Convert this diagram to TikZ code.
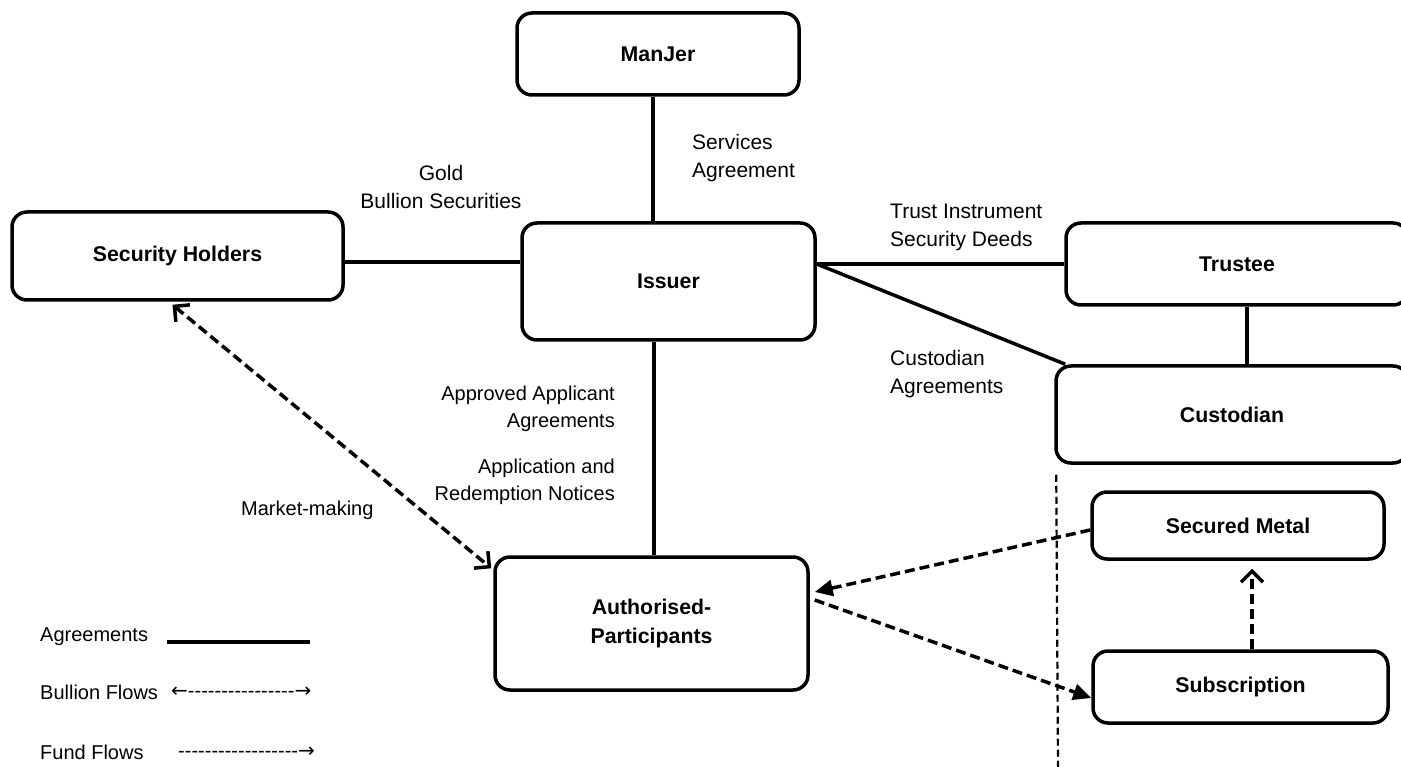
\documentclass[tikz,border=0pt]{standalone}
\usepackage{fontspec}
\setmainfont{Liberation Sans}
\newfontfamily\arrowfont{DejaVu Sans}
\usetikzlibrary{arrows.meta}
\newcommand\hyphenrun[1]{\foreach \k in {1,...,#1}{-{}}}
\begin{document}
\begin{tikzpicture}[x=1pt,y=-1pt,
  box/.style={draw,line width=3.5pt,rounded corners=15pt,font=\fontsize{21.3}{29}\selectfont\bfseries,align=center,inner sep=0pt},
  agr/.style={line width=3.5pt},
  flow/.style={line width=3.5pt,dash pattern=on 10pt off 5pt},
  thinflow/.style={line width=2.2pt,dash pattern=on 7pt off 4pt},
  lbl/.style={font=\fontsize{21}{28}\selectfont,inner sep=0pt},
  lbls/.style={font=\fontsize{20}{27}\selectfont,inner sep=0pt},
  barb/.style={-{Straight Barb[length=11pt,width=22pt,line width=3.5pt]}},
  tri/.style={-{Triangle[length=18pt,width=16pt]}}]
\useasboundingbox (0,0) rectangle (1401,767);
\fill[white] (0,0) rectangle (1401,767);
% boxes
\node[box,minimum width=282pt,minimum height=82pt] (manjer) at (658,54) {ManJer};
\node[box,minimum width=331pt,minimum height=88pt] (holders) at (177.5,256) {Security Holders};
\node[box,minimum width=293pt,minimum height=117pt] (issuer) at (668.5,281.5) {Issuer};
\node[box,minimum width=342pt,minimum height=82pt] (trustee) at (1237,264) {Trustee};
\node[box,minimum width=352pt,minimum height=97pt] (cust) at (1232,414.5) {Custodian};
\node[box,minimum width=292pt,minimum height=67pt] (secured) at (1238,525.5) {Secured Metal};
\node[box,minimum width=295pt,minimum height=72pt] (sub) at (1240.5,687) {Subscription};
\node[box,minimum width=313pt,minimum height=133pt] (ap) at (651.5,623.5) {Authorised-\\Participants};
% agreement lines
\coordinate (mj) at ([xshift=-5pt]manjer.south);
\draw[agr] (mj) -- (mj |- issuer.north);
\coordinate (sh) at ([yshift=-6pt]holders.east);
\draw[agr] (sh) -- (sh -| issuer.west);
\coordinate (ie) at (issuer.east |- trustee.west);
\draw[agr] (ie) -- (trustee.west);
\draw[agr] (ie) -- ([xshift=11pt]cust.north west);
\coordinate (tc) at ([xshift=10pt]trustee.south);
\draw[agr] (tc) -- (tc |- cust.north);
\coordinate (ia) at ([xshift=2.5pt]ap.north);
\draw[agr] (ia) -- (ia |- issuer.south);
% flows
\draw[flow,{Straight Barb[length=11pt,width=22pt,line width=3.5pt]}-{Straight Barb[length=11pt,width=22pt,line width=3.5pt]}] ([xshift=-5pt,yshift=-3pt]holders.south) -- ([xshift=-2pt,yshift=-13pt]ap.north west);
\draw[flow,tri] ([yshift=-4.5pt]secured.west) -- ([xshift=5pt,yshift=31.5pt]ap.east);
\draw[flow,tri] ([xshift=5pt,yshift=23.5pt]ap.east) -- ([yshift=-11pt]sub.west);
\coordinate (ss) at ([xshift=11.5pt]sub.north);
\draw[flow,barb,shorten >=8pt] (ss) -- (ss |- secured.south);
\coordinate (vb) at (1058,767);
\draw[thinflow] ([xshift=2pt,yshift=-10pt]cust.south west) -- (vb);
% labels
\node[lbl,anchor=west,align=left] (l1) at (692,158) {Services\\Agreement};
\node[lbl,align=center] (l2) at (441,186.5) {Gold\\Bullion Securities};
\node[lbl,anchor=west,align=left] (l3) at (890,227) {Trust Instrument\\Security Deeds};
\node[lbl,anchor=west,align=left] (l4) at (890,374) {Custodian\\Agreements};
\node[lbls,anchor=east,align=right] (l5) at (615,408.5) {Approved Applicant\\Agreements};
\node[lbls,anchor=east,align=right] (l6) at (615,481.5) {Application and\\Redemption Notices};
\node[lbls,anchor=west] (l7) at (241,510) {Market-making};
% legend
\node[lbls,anchor=west] (g1) at (40,637) {Agreements};
\coordinate (ga) at (167,642);
\coordinate (gb) at (310,642);
\draw[agr] (ga) -- (gb);
\node[lbls,anchor=west] (g2) at (40,692) {Bullion Flows};
\node[lbls,anchor=west] (g2a) at (171,692) {{\arrowfont ←}\hyphenrun{16}{\arrowfont →}};
\node[lbls,anchor=west] (g3) at (40,752) {Fund Flows};
\node[lbls,anchor=west] (g3a) at (178,752) {\hyphenrun{18}{\arrowfont →}};
\end{tikzpicture}
\end{document}
